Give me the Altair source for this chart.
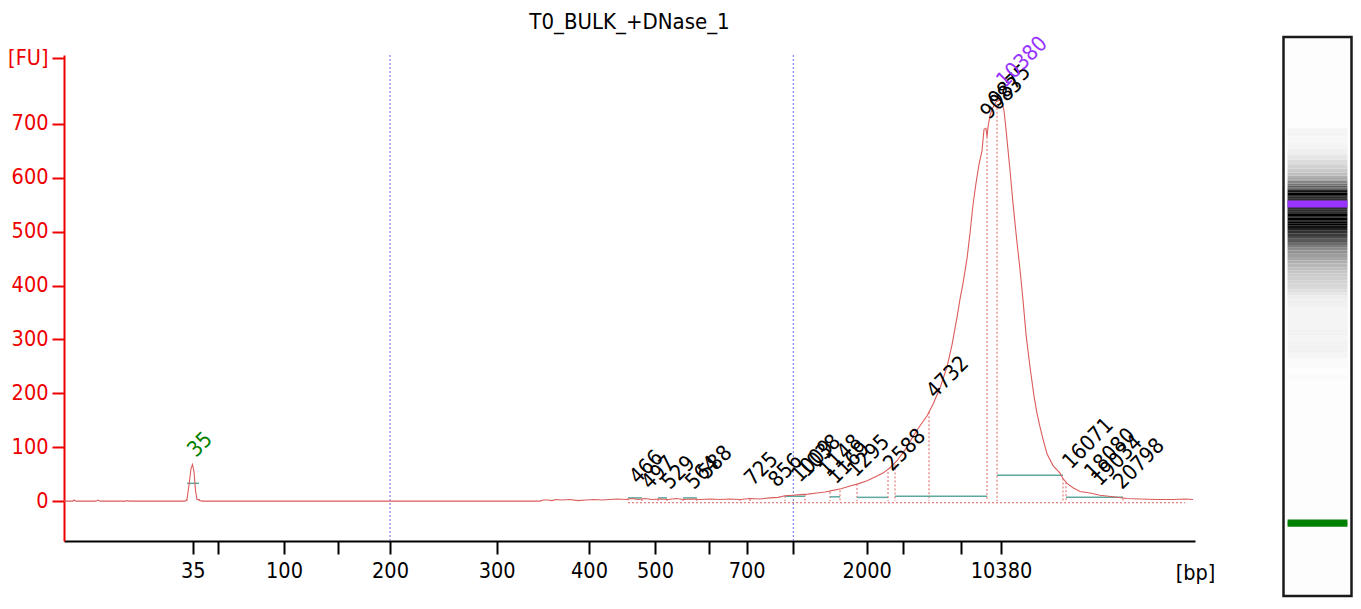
import altair as alt
import pandas as pd

FONT = "DejaVu Sans Condensed, Liberation Sans, sans-serif"
TITLE = "T0_BULK_+DNase_1"

# electropherogram trace: migration position (arbitrary units) and fluorescence [FU]
trace_t = [0, 6, 9, 10, 12, 32, 34, 36, 62, 63, 65, 121, 123, 125, 127, 128.5, 130, 131.5, 133, 135,
           136, 138, 476, 479, 484, 488, 492, 498, 506, 514, 522, 530, 538, 546, 554, 562, 568, 574,
           581, 588, 596, 604, 612, 620, 628, 636, 646, 656, 666, 676, 686, 696, 706, 714, 721, 729,
           736, 744, 753, 761, 769, 777, 786, 794, 803, 811, 819, 826, 833, 841, 849, 856, 863, 869,
           876, 883, 888, 893, 896, 899, 903, 906, 909, 912, 915, 918, 920, 922, 923, 924, 926, 929,
           932, 936, 938, 940, 942, 944, 946, 949, 951, 953, 956, 959, 962, 966, 970, 973, 976, 979,
           983, 989, 996, 999, 1003, 1009, 1016, 1026, 1036, 1049, 1063, 1076, 1093, 1109, 1121, 1129]
trace_fu = [0, 0, 0, 2, 0, 0, 2, 0, 0, 1, 0, 0, 3, 30, 60, 68, 55, 20, 3, 3,
            1, 0, 0, 2, 2, 1, 3, 2, 3, 1, 2, 3, 2, 3, 4, 3, 5, 3,
            5, 3, 4, 3, 5, 3, 4, 3, 4, 3, 4, 3, 5, 4, 6, 7, 10, 11,
            12, 13, 15, 17, 20, 23, 28, 32, 38, 45, 52, 62, 75, 95, 120, 140, 158, 180,
            210, 249, 290, 341, 375, 404, 450, 497, 550, 590, 625, 650, 690, 692, 676, 694, 716, 731,
            741, 745, 740, 725, 690, 652, 614, 553, 516, 480, 430, 373, 310, 249, 195, 163, 138, 115,
            88, 66, 52, 42, 33, 25, 18, 15, 11, 8, 5, 4, 3, 3, 4, 3]

# x axis ticks (migration position) and their size labels
tick_t = [128.7, 154.3, 220, 274.3, 326, 432.7, 525, 591, 645, 682.7, 729.3, 802.7, 838.7, 897, 937]
tick_labels = ["35", "", "100", "", "200", "300", "400", "500", "", "700", "", "2000", "", "", "10380"]

# y axis ticks
y_ticks = [0, 100, 200, 300, 400, 500, 600, 700, 822]
y_labels = ["0", "100", "200", "300", "400", "500", "600", "700", "[FU]"]

# peak annotations
peak_text = ["35", "466", "497", "529", "564", "588", "725", "856", "1009", "1038", "1148", "1169",
             "1295", "2588", "4732", "9083", "9875", "10380", "16071", "18080", "19034", "20798"]
peak_t = [132, 574, 586, 606, 630, 643, 689, 713, 736, 743, 764, 772,
          792, 828, 871, 925, 933, 941, 1007, 1029, 1036, 1058]
peak_fu = [80, 30, 20, 20, 20, 39, 27, 24, 33, 43, 43, 30,
           43, 54, 189, 707, 730, 766, 58, 39, 26, 20]
peak_color = ["#008000"] + ["#000000"] * 16 + ["#9933FF"] + ["#000000"] * 4

# peak baselines (teal segments)
seg_start = [123, 564, 594, 619, 721, 766, 793, 831, 933, 1002]
seg_end = [135, 578, 603, 633, 741, 776, 824, 923, 999, 1059]
seg_fu = [33, 6, 6, 6, 9, 8, 7, 9, 48, 7]

# peak boundary markers (red dotted verticals)
mark_t = [123, 135, 564, 578, 594, 603, 619, 633, 676, 686, 721, 741, 766, 776, 793, 824, 831,
          865, 923, 933, 999, 1002, 1059]
mark_fu = [3, 3, 5, 4, 4, 4, 4, 4, 3, 4, 10, 12, 17, 20, 32, 54, 68,
           165, 676, 745, 42, 35, 5]

# region markers (blue dotted verticals)
region_t = [326, 729.3]

# gel lane markers
band_t = [128.7, 937]
band_color = ["#008000", "#9933FF"]

X_DOMAIN = [0, 1131]
Y_DOMAIN = [-74, 828]
FS = 21.5

label_expr = "".join(f"datum.value == {v} ? '{l}' : " for v, l in zip(tick_t, tick_labels)) + "''"
y_label_expr = "".join(f"datum.value == {v} ? '{l}' : " for v, l in zip(y_ticks, y_labels)) + "''"

x_axis = alt.Axis(values=tick_t, labelExpr=label_expr, tickSize=13, tickWidth=2, tickColor="black",
                  domainColor="black", domainWidth=2, labelFont=FONT, labelFontSize=FS,
                  labelColor="black", labelPadding=6, grid=False, labelFlush=False, labelOverlap=False,
                  title="[bp]", titleX=1131, titleY=38, titleAlign="center", titleBaseline="alphabetic",
                  titleFont=FONT, titleFontSize=FS, titleFontWeight="normal", titleColor="black")
y_axis = alt.Axis(values=y_ticks, labelExpr=y_label_expr, tickSize=12, tickWidth=2, tickColor="#EE0000",
                  domainColor="#EE0000", domainWidth=2, labelFont=FONT, labelFontSize=FS,
                  labelColor="#EE0000", labelPadding=4, grid=False, title=None, labelFlush=False,
                  labelOverlap=False)
sx = alt.Scale(domain=X_DOMAIN, nice=False, zero=False)
sy = alt.Scale(domain=Y_DOMAIN, nice=False, zero=False)


def X(field):
    return alt.X(f"{field}:Q", scale=sx, axis=x_axis)


def Y(field):
    return alt.Y(f"{field}:Q", scale=sy, axis=y_axis)


trace_df = pd.DataFrame({"t": trace_t, "fu": trace_fu})
peaks_df = pd.DataFrame({"t": peak_t, "fu": peak_fu, "label": peak_text, "color": peak_color})
seg_df = pd.DataFrame({"t": seg_start, "t2": seg_end, "fu": seg_fu})
mark_df = pd.DataFrame({"t": mark_t, "fu": mark_fu, "fu0": [0] * len(mark_t)})
region_df = pd.DataFrame({"t": region_t})
base_df = pd.DataFrame({"t": [mark_t[2]], "t2": [trace_t[-2]], "fu": [-3]})
title_df = pd.DataFrame({"title": [TITLE]})

region_rules = alt.Chart(region_df).mark_rule(color="#6A6AD8", strokeDash=[2, 2], strokeWidth=1).encode(
    x=X("t"))
base_rule = alt.Chart(base_df).mark_rule(color="#E06060", strokeDash=[2, 2], strokeWidth=1).encode(
    x=X("t"), x2="t2", y=Y("fu"))
mark_rules = alt.Chart(mark_df).mark_rule(color="#E06060", strokeDash=[2, 2], strokeWidth=1).encode(
    x=X("t"), y=Y("fu"), y2="fu0")
seg_rules = alt.Chart(seg_df).mark_rule(color="#5FA8A0", strokeWidth=1.5).encode(
    x=X("t"), x2="t2", y=Y("fu"))
trace = alt.Chart(trace_df).mark_line(color="#DC5C5C", strokeWidth=1.1).encode(x=X("t"), y=Y("fu"))
labels = alt.Chart(peaks_df).mark_text(angle=315, align="left", baseline="alphabetic", font=FONT,
                                       fontSize=FS).encode(
    x=X("t"), y=Y("fu"), text="label:N", color=alt.Color("color:N", scale=None))
title_mark = alt.Chart(title_df).mark_text(font=FONT, fontSize=22, color="black", align="center",
                                           baseline="alphabetic").encode(
    x=alt.value(1131 / 2), y=alt.value(-26), text="title:N")

main = alt.layer(region_rules, base_rule, mark_rules, seg_rules, trace, labels, title_mark)

# gel lane (separate scales positioned to the right of the plot)
gel_rows = []
for i in range(len(trace_t) - 1):
    gel_rows.append({"gt": trace_t[i], "gt2": trace_t[i + 1], "v": (trace_fu[i] + trace_fu[i + 1]) / 2,
                     "gx": 0.06, "gx2": 0.94})
gel_df = pd.DataFrame(gel_rows)
gel_df = gel_df[gel_df["v"] >= 2]
box_df = pd.DataFrame({"gx": [0], "gx2": [1], "gt": [-56], "gt2": [1360]})
band_df = pd.DataFrame({"gt": [b - 9 for b in band_t], "gt2": [b + 9 for b in band_t],
                        "color": band_color, "gx": [0.06] * 2, "gx2": [0.94] * 2})

gx_scale = alt.Scale(domain=[0, 1], range=[1219.5, 1287.5], nice=False, zero=False)
gy_scale = alt.Scale(domain=[-56, 1360], range=[541, -18], nice=False, zero=False)

gel_box = alt.Chart(box_df).mark_rect(fill="#FDFDFD", stroke="#1A1A1A", strokeWidth=2.5).encode(
    x=alt.X("gx:Q", scale=gx_scale, axis=None), x2="gx2",
    y=alt.Y("gt:Q", scale=gy_scale, axis=None), y2="gt2")
gel_rects = alt.Chart(gel_df).mark_rect().encode(
    x=alt.X("gx:Q", scale=gx_scale, axis=None), x2="gx2",
    y=alt.Y("gt:Q", scale=gy_scale, axis=None), y2="gt2",
    color=alt.Color("v:Q", scale=alt.Scale(type="sqrt", domain=[2, 250],
                                           range=["#fdfdfd", "#000000"], clamp=True), legend=None))
gel_bands = alt.Chart(band_df).mark_rect().encode(
    x=alt.X("gx:Q", scale=gx_scale, axis=None), x2="gx2",
    y=alt.Y("gt:Q", scale=gy_scale, axis=None), y2="gt2",
    color=alt.Color("color:N", scale=None))

gel = alt.layer(gel_box, gel_rects, gel_bands)

chart = alt.layer(main, gel).resolve_scale(x="independent", y="independent", color="independent").properties(
    width=1131, height=486,
    autosize=alt.AutoSizeParams(type="none"),
    padding={"left": 56, "top": 47, "right": 158, "bottom": 57},
).configure_view(stroke=None)

chart.save("out.html", embed_options={"renderer": "svg", "actions": False})
